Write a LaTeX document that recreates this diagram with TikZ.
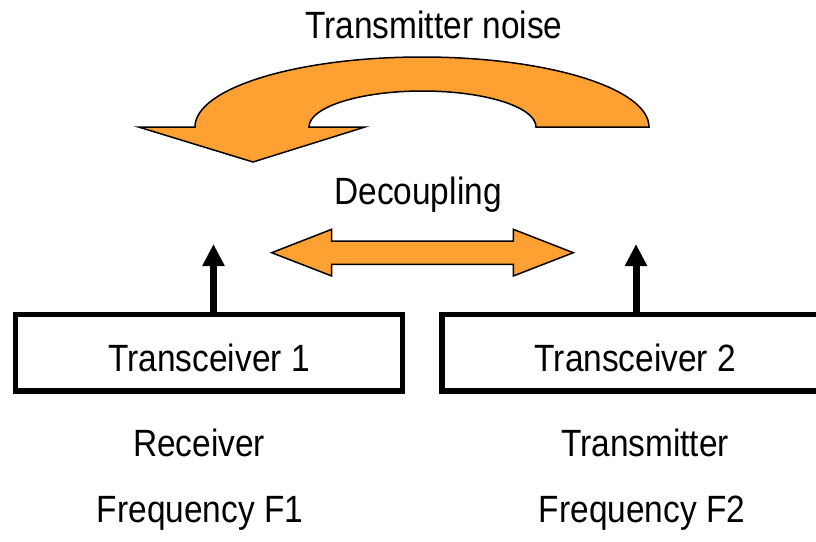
\documentclass[tikz,border=0pt]{standalone}
\usepackage{fontspec}
\setmainfont[FakeStretch=0.88]{Liberation Sans}
\usetikzlibrary{arrows.meta}
\definecolor{arrowfill}{RGB}{255,160,50}
\begin{document}
\begin{tikzpicture}[x=1pt,y=-1pt,
  lbl/.style={font=\fontsize{38}{40}\selectfont, anchor=base, inner sep=0pt},
  box/.style={draw, line width=5.5pt, minimum width=386.6pt, minimum height=76.7pt,
    text height=38pt, text depth=0.3pt, inner sep=0pt, font=\fontsize{38}{40}\selectfont},
  shapearrow/.style={fill=arrowfill, draw=black, line width=1.5pt, line join=miter},
  uparrow/.style={line width=7pt, -{Triangle[width=21pt,length=22pt]}}
]
\clip (0,0) rectangle (816,541);

% boxes
\node[box] (t1) at (209,352.85) {Transceiver 1};
\node[box] (t2) at (635.35,352.85) {Transceiver 2};

% up arrows
\coordinate (a1) at (213.5,244);
\coordinate (a2) at (636,244);
\draw[uparrow] (t1.north -| a1) -- (a1);
\draw[uparrow] (t2.north -| a2) -- (a2);

% curved arrow (transmitter noise)
\draw[shapearrow] (649,127)
  .. controls (649,88.3) and (547.4,57) .. (422,57)
  .. controls (296.6,57) and (195,88.3) .. (195,127)
  -- (138.5,127) -- (253,162) -- (365,127) -- (309,127)
  .. controls (309,107.1) and (359.8,91) .. (422.5,91)
  .. controls (485.2,91) and (536,107.1) .. (536,127)
  -- cycle;

% double arrow (decoupling)
\draw[shapearrow] (271.7,252.7) -- (331.7,229.3) -- (331.7,241) -- (513.3,241)
  -- (513.3,229.3) -- (573.3,252.7) -- (513.3,276) -- (513.3,264.3)
  -- (331.7,264.3) -- (331.7,276) -- cycle;

% labels
\node[lbl] (noise) at (434,38.3) {Transmitter noise};
\node[lbl] (dec) at (418,204.3) {Decoupling};
\node[lbl] (rx) at (199,456.7) {Receiver};
\node[lbl] (tx) at (645,456.7) {Transmitter};
\node[lbl] (f1) at (200,522) {Frequency F1};
\node[lbl] (f2) at (642,522) {Frequency F2};
\end{tikzpicture}
\end{document}
